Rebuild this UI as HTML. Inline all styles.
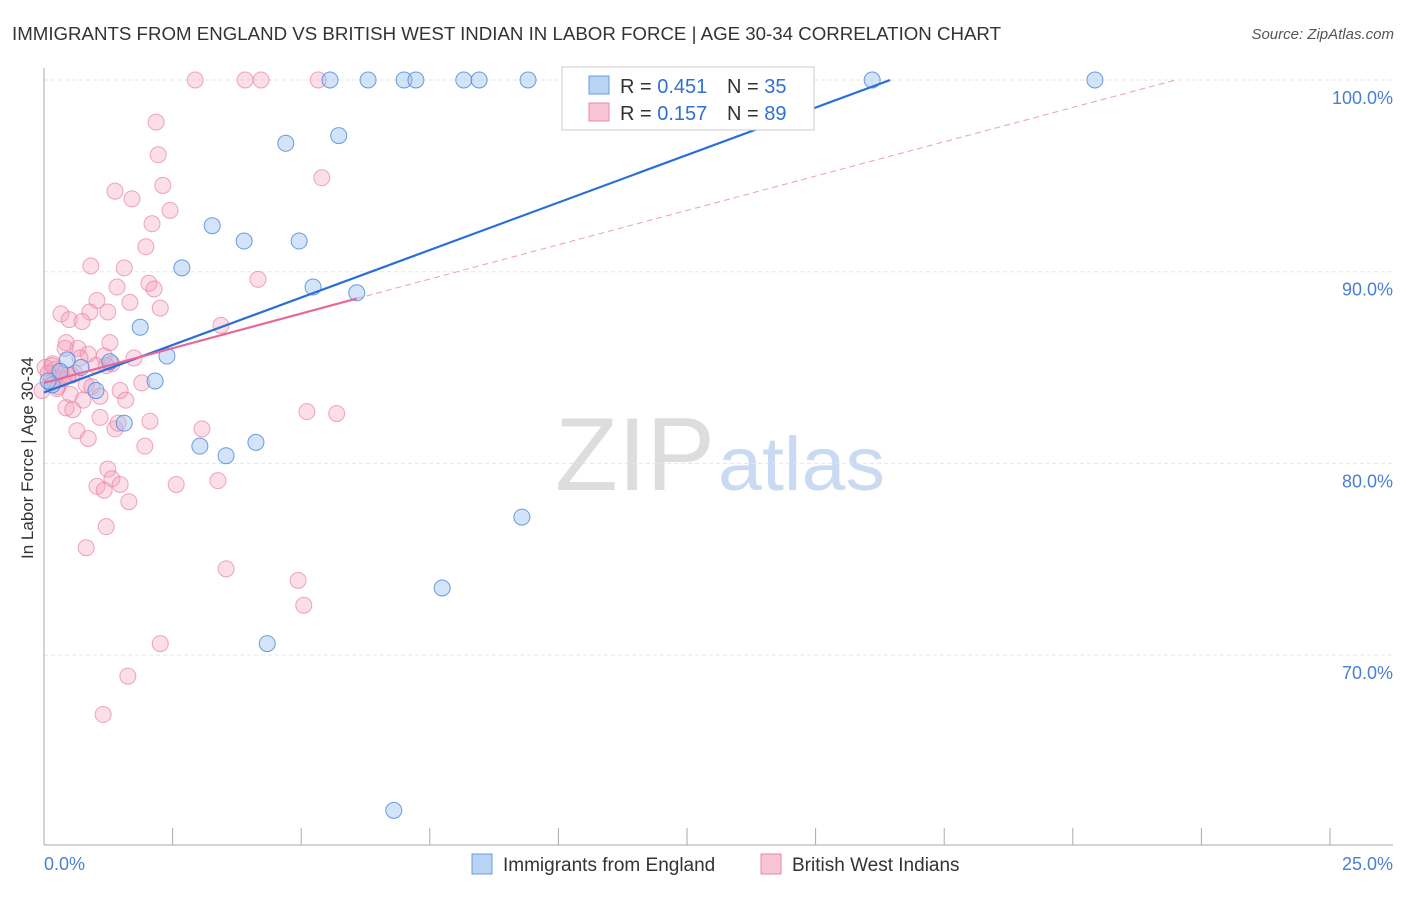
<!DOCTYPE html>
<html><head><meta charset="utf-8"><style>
body{margin:0;background:#fff;font-family:"Liberation Sans",sans-serif}
svg text{font-family:"Liberation Sans",sans-serif}
</style></head><body>
<svg id="chart" width="1406" height="892" xmlns="http://www.w3.org/2000/svg">
<text x="12" y="40" font-size="18" fill="#333" textLength="989" lengthAdjust="spacingAndGlyphs">IMMIGRANTS FROM ENGLAND VS BRITISH WEST INDIAN IN LABOR FORCE | AGE 30-34 CORRELATION CHART</text>
<text x="1394" y="39" font-size="15" fill="#555" text-anchor="end" font-style="italic">Source: ZipAtlas.com</text>
<text x="555" y="490" font-size="104" fill="#ddd" font-family="Liberation Serif" textLength="160" lengthAdjust="spacingAndGlyphs">ZIP</text>
<text x="718" y="490" font-size="76" fill="#c9daf2" textLength="167" lengthAdjust="spacingAndGlyphs">atlas</text>
<g id="grid"></g><g id="axes"></g><g id="marks"></g>
<text transform="translate(33,458) rotate(-90)" font-size="17" fill="#333" text-anchor="middle">In Labor Force | Age 30-34</text>
<g>
<rect x="562" y="67" width="252" height="63" fill="#fff" stroke="#ccc"/>
<rect x="589" y="76" width="20" height="18" fill="#b9d3f5" stroke="#6a9be0"/>
<rect x="589" y="103" width="20" height="18" fill="#f8c4d3" stroke="#e889a6"/>
<text x="620" y="93" font-size="20" fill="#333">R = <tspan fill="#2f6fd6">0.451</tspan></text>
<text x="727" y="93" font-size="20" fill="#333">N = <tspan fill="#2f6fd6">35</tspan></text>
<text x="620" y="120" font-size="20" fill="#333">R = <tspan fill="#2f6fd6">0.157</tspan></text>
<text x="727" y="120" font-size="20" fill="#333">N = <tspan fill="#2f6fd6">89</tspan></text>
</g>
<g>
<rect x="472" y="854" width="20" height="20" fill="#b9d3f5" stroke="#6a9be0"/>
<text x="503" y="871" font-size="19" fill="#333">Immigrants from England</text>
<rect x="761" y="854" width="20" height="20" fill="#f8c4d3" stroke="#e889a6"/>
<text x="792" y="871" font-size="19" fill="#333">British West Indians</text>
</g>
</svg>
<script>
const yTicks=[70,80,90,100];
const yTickLabels=["70.0%","80.0%","90.0%","100.0%"];
const xTicks=[0,2.5,5,7.5,10,12.5,15,17.5,20,22.5,25];
const blueX=[5.56,6.30,7.00,7.23,8.16,8.46,9.41,16.1,20.43,4.70,5.73,3.27,3.89,4.96,2.68,5.23,6.08,1.87,2.39,1.28,0.45,0.72,2.16,1.01,0.16,1.56,3.03,3.54,4.12,9.29,7.74,4.34,6.80,0.31,0.08];
const blueY=[100,100,100,100,100,100,100,100,100,96.7,97.1,92.4,91.6,91.6,90.2,89.2,88.9,87.1,85.6,85.3,85.4,85.0,84.3,83.8,84.1,82.1,80.9,80.4,81.1,77.2,73.5,70.6,61.9,84.8,84.3];
const pinkX=[2.94,3.91,4.22,5.33,2.18,2.22,2.31,1.38,1.71,2.45,2.10,1.98,0.91,1.56,4.16,2.04,2.14,1.42,1.03,1.67,2.26,0.33,0.89,1.24,0.49,0.74,3.44,0.43,0.66,0.86,1.17,1.32,1.01,0.17,0.02,0.31,0.54,0.12,0.27,-0.04,0.82,1.90,1.48,1.59,0.76,0.51,0.43,0.56,1.09,2.06,3.07,1.38,0.64,0.86,1.96,1.24,1.32,1.03,1.48,1.17,2.57,3.38,1.65,1.21,0.82,3.54,4.94,5.05,2.26,1.63,1.15,5.40,5.11,5.69,0.21,0.37,0.60,0.16,0.25,0.47,0.08,0.93,1.21,0.70,0.41,1.09,1.44,1.75,1.28];
const pinkY=[100,100,100,100,97.8,96.1,94.5,94.2,93.8,93.2,92.5,91.3,90.3,90.2,89.6,89.4,89.1,89.2,88.5,88.4,88.1,87.8,87.9,87.9,87.5,87.4,87.2,86.3,86.0,85.7,85.6,85.2,85.1,85.2,85.0,84.8,84.6,84.2,84.0,83.8,84.1,84.2,83.8,83.3,83.3,83.6,82.9,82.8,82.4,82.2,81.8,81.8,81.7,81.3,80.9,79.7,79.2,78.8,78.9,78.6,78.9,79.1,78.0,76.7,75.6,74.5,73.9,72.6,70.6,68.9,66.9,94.9,82.7,82.6,84.9,84.4,84.7,85.1,83.9,84.6,84.7,84.0,85.1,85.5,86.0,83.5,82.1,85.5,86.3];
const blueLine=[[0,83.7],[16.45,100]];
const pinkSolid=[[0,84.2],[6.08,88.6]];
const pinkDash=[[6.08,88.6],[22.0,100]];
const X=v=>44+v*51.44, Y=v=>80+(100-v)*19.17;
const NS="http://www.w3.org/2000/svg";
function mk(p,t,a){const e=document.createElementNS(NS,t);for(const k in a)e.setAttribute(k,a[k]);p.appendChild(e);return e;}
const grid=document.getElementById('grid'),axes=document.getElementById('axes'),marks=document.getElementById('marks');
yTicks.forEach((t,i)=>{const l=mk(grid,'line',{x1:44,x2:1393,y1:Y(t),y2:Y(t),stroke:'#e6e6e6','stroke-dasharray':'4,3'});


const tx=mk(axes,'text',{x:1393,y:Y(t)+24,'font-size':18,fill:'#4a7fd4','text-anchor':'end'});tx.textContent=yTickLabels[i];

});
const ax=mk(axes,'line',{x1:44,x2:44,y1:68,y2:845,stroke:'#aaa'});


const bx=mk(axes,'line',{x1:44,x2:1393,y1:845,y2:845,stroke:'#aaa'});


xTicks.forEach(t=>{const l=mk(axes,'line',{x1:X(t),x2:X(t),y1:828,y2:845,stroke:'#aaa'});

});
const x0=mk(axes,'text',{x:44,y:870,'font-size':18,fill:'#4a7fd4'});x0.textContent='0.0%';


const x1=mk(axes,'text',{x:1393,y:870,'font-size':18,fill:'#4a7fd4','text-anchor':'end'});x1.textContent='25.0%';


pinkX.forEach((v,i)=>{const c=mk(marks,'circle',{cx:X(v),cy:Y(pinkY[i]),r:8,fill:'rgba(244,160,188,0.35)',stroke:'rgba(232,130,165,0.7)','stroke-width':1});

});
blueX.forEach((v,i)=>{const c=mk(marks,'circle',{cx:X(v),cy:Y(blueY[i]),r:8,fill:'rgba(160,196,240,0.45)',stroke:'rgba(80,140,220,0.85)','stroke-width':1});

});
const bl=mk(marks,'line',{x1:X(blueLine[0][0]),y1:Y(blueLine[0][1]),x2:X(blueLine[1][0]),y2:Y(blueLine[1][1]),stroke:'#2a6fd6','stroke-width':2.2});


const ps=mk(marks,'line',{x1:X(pinkSolid[0][0]),y1:Y(pinkSolid[0][1]),x2:X(pinkSolid[1][0]),y2:Y(pinkSolid[1][1]),stroke:'#e8679a','stroke-width':2.2});


const pd=mk(marks,'line',{x1:X(pinkDash[0][0]),y1:Y(pinkDash[0][1]),x2:X(pinkDash[1][0]),y2:Y(pinkDash[1][1]),stroke:'#eaa0b8','stroke-width':1,'stroke-dasharray':'6,4'});


</script>
</body></html>
